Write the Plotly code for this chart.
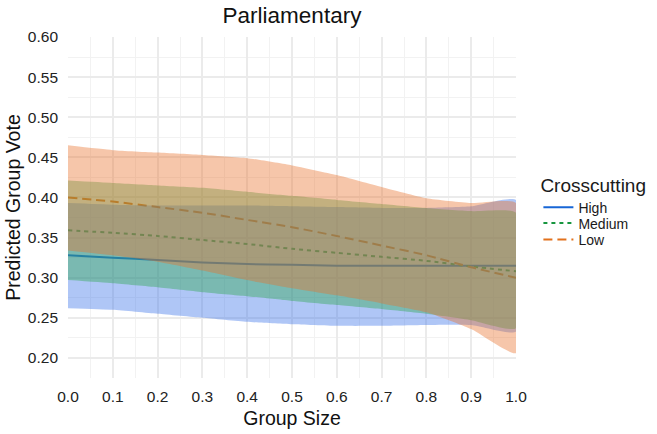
import plotly.graph_objects as go

group_size = [0.0, 0.1, 0.2, 0.3, 0.4, 0.5, 0.6, 0.7, 0.8, 0.9, 1.0]

high_fit = [0.328, 0.325, 0.322, 0.319, 0.317, 0.316, 0.315, 0.315, 0.315, 0.315, 0.315]
high_upper = [0.393, 0.391, 0.390, 0.390, 0.390, 0.389, 0.388, 0.387, 0.387, 0.389, 0.397]
high_lower = [0.262, 0.260, 0.255, 0.250, 0.245, 0.242, 0.240, 0.240, 0.241, 0.241, 0.233]

medium_fit = [0.359, 0.356, 0.352, 0.347, 0.342, 0.336, 0.331, 0.326, 0.321, 0.314, 0.308]
medium_upper = [0.421, 0.418, 0.415, 0.412, 0.407, 0.402, 0.397, 0.392, 0.387, 0.383, 0.381]
medium_lower = [0.297, 0.293, 0.288, 0.282, 0.277, 0.271, 0.266, 0.261, 0.255, 0.247, 0.237]

low_fit = [0.400, 0.395, 0.388, 0.381, 0.372, 0.363, 0.352, 0.340, 0.328, 0.313, 0.300]
low_upper = [0.465, 0.459, 0.456, 0.453, 0.449, 0.440, 0.428, 0.413, 0.399, 0.393, 0.393]
low_lower = [0.334, 0.328, 0.320, 0.309, 0.297, 0.287, 0.278, 0.268, 0.257, 0.236, 0.206]

x_ticks = [0.0, 0.1, 0.2, 0.3, 0.4, 0.5, 0.6, 0.7, 0.8, 0.9, 1.0]
y_ticks = [0.20, 0.25, 0.30, 0.35, 0.40, 0.45, 0.50, 0.55, 0.60]

groups = ["High", "Medium", "Low"]
fits = [high_fit, medium_fit, low_fit]
uppers = [high_upper, medium_upper, low_upper]
lowers = [high_lower, medium_lower, low_lower]
line_colors = ["#1766D6", "#17963F", "#E2711C"]
fill_colors = ["rgba(56,112,232,0.4)", "rgba(42,165,75,0.4)", "rgba(232,112,42,0.4)"]
dashes = ["solid", "4px,4px", "9px,5px"]
legend_ids = ["legend", "legend2", "legend3"]

FONT = "Liberation Sans, Arial, sans-serif"

fig = go.Figure()

for g, f, c, d, lg in zip(groups, fits, line_colors, dashes, legend_ids):
    fig.add_trace(go.Scatter(
        x=group_size, y=f, mode="lines", name=g, legendgroup=g, legend=lg,
        line=dict(color=c, width=2, dash=d, shape="spline", smoothing=0.6),
        showlegend=True,
    ))

for g, up, lo, fc in zip(groups, uppers, lowers, fill_colors):
    fig.add_trace(go.Scatter(
        x=group_size + group_size[::-1], y=up + lo[::-1],
        mode="lines", fill="toself", fillcolor=fc,
        line=dict(width=0, color=fc, shape="spline", smoothing=0.5),
        legendgroup=g, showlegend=False, hoverinfo="skip",
    ))

grid_major = "#EBEBEB"
grid_minor = "#F2F2F2"

legend_common = dict(
    x=1.05, xanchor="left", font=dict(size=14, color="#1a1a1a"),
    tracegroupgap=0, itemwidth=30, bgcolor="rgba(0,0,0,0)",
)

fig.update_layout(
    width=657, height=434,
    margin=dict(l=68, r=141, t=37, b=56, autoexpand=False),
    paper_bgcolor="white", plot_bgcolor="white",
    font=dict(family=FONT, color="#1a1a1a", size=15),
    title=dict(text="Parliamentary", x=(68 + 516) / 2 / 657, xanchor="center",
               y=1 - 15 / 434, yanchor="middle", font=dict(size=22.5, color="#111")),
    xaxis=dict(
        range=[0, 1], tickvals=x_ticks, automargin=False,
        tickformat=".1f", showgrid=True, gridcolor=grid_major, gridwidth=1.5,
        minor=dict(dtick=0.05, showgrid=True, gridcolor=grid_minor, gridwidth=1),
        zeroline=False, showline=False, ticks="", ticklabelstandoff=7,
        title=dict(text="Group Size", font=dict(size=19.5, color="#111"), standoff=7),
        tickfont=dict(size=15.5, color="#222"), fixedrange=True,
    ),
    yaxis=dict(
        range=[0.175, 0.60], tickvals=y_ticks, automargin=False,
        tickformat=".2f", showgrid=True, gridcolor=grid_major, gridwidth=1.5,
        minor=dict(dtick=0.025, showgrid=True, gridcolor=grid_minor, gridwidth=1),
        zeroline=False, showline=False, ticks="", ticklabelstandoff=9,
        title=dict(text="Predicted Group Vote", font=dict(size=19.5, color="#111"), standoff=2),
        tickfont=dict(size=15.5, color="#222"), fixedrange=True,
    ),
    legend=dict(title=dict(text="Crosscutting", font=dict(size=19)),
                y=(378 - 195) / 341, yanchor="middle", **legend_common),
    legend2=dict(y=(378 - 223.5) / 341, yanchor="middle", **legend_common),
    legend3=dict(y=(378 - 240) / 341, yanchor="middle", **legend_common),
)

fig.write_html("out.html")
